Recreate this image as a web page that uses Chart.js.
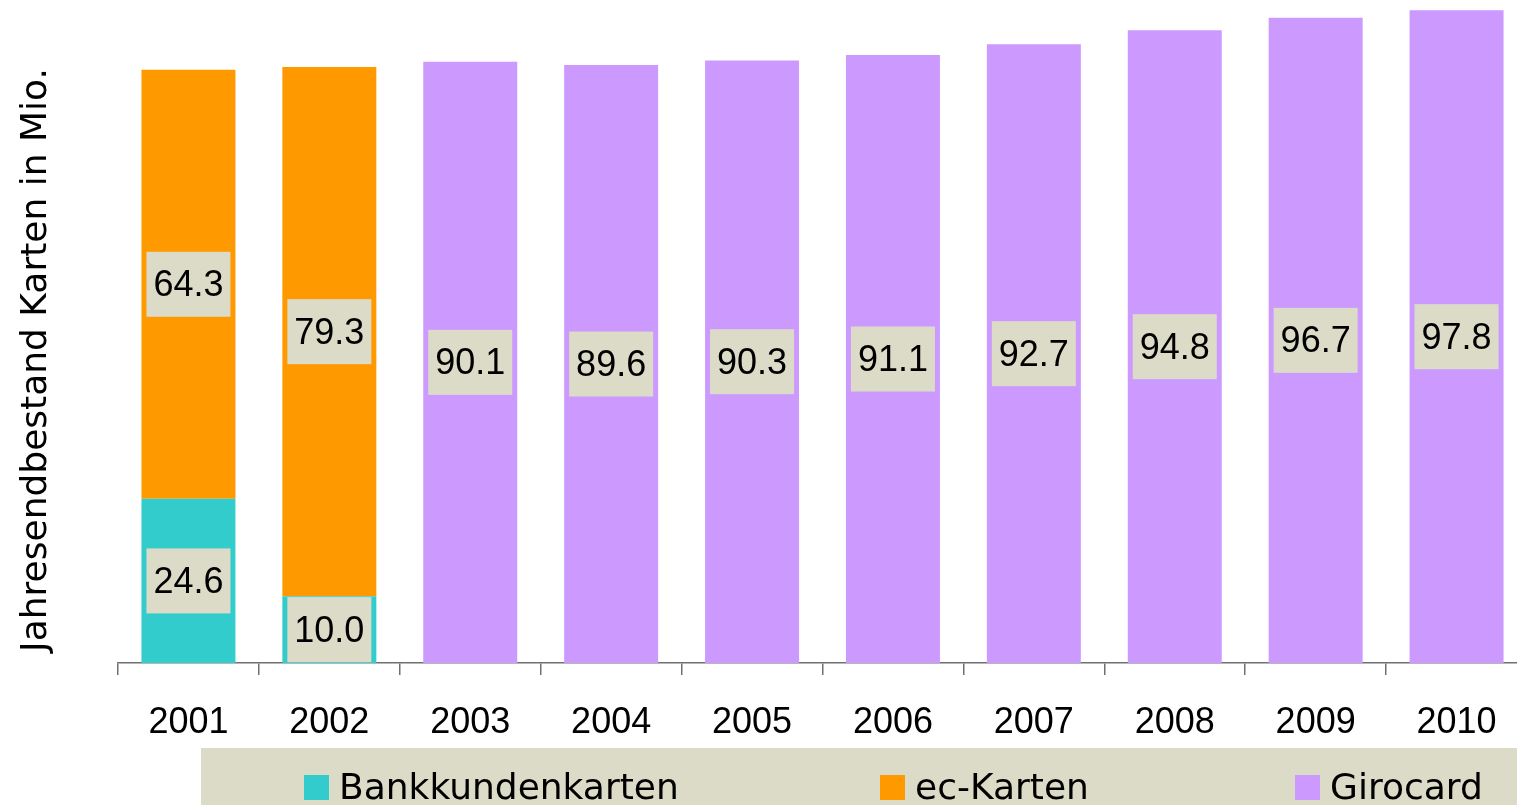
<!DOCTYPE html>
<html>
<head>
<meta charset="utf-8">
<script src="https://cdn.jsdelivr.net/npm/chart.js@4"></script>
<style>
  html, body { margin: 0; padding: 0; overflow: hidden; background: #ffffff; }
  #wrap { position: absolute; left: 0; top: 0; width: 1540px; height: 805px; }
</style>
</head>
<body>
<div id="wrap"><canvas id="c" width="1540" height="805"></canvas></div>
<script>
const categories = ['2001', '2002', '2003', '2004', '2005', '2006', '2007', '2008', '2009', '2010'];
const bankkundenkarten = [24.6, 10.0, null, null, null, null, null, null, null, null];
const ecKarten = [64.3, 79.3, null, null, null, null, null, null, null, null];
const girocard = [null, null, 90.1, 89.6, 90.3, 91.1, 92.7, 94.8, 96.7, 97.8];
const seriesNames = ['Bankkundenkarten', 'ec-Karten', 'Girocard'];
const yTitle = 'Jahresendbestand Karten in Mio.';

const NUM_FONT = '36px "Liberation Sans", Arial, sans-serif';
const TXT_FONT = '36px "DejaVu Sans", sans-serif';
const BOX = '#DCDBC7';

const labelPlugin = {
  id: 'boxLabels',
  afterDatasetsDraw(chart) {
    const ctx = chart.ctx;
    ctx.save();
    ctx.font = NUM_FONT;
    ctx.textAlign = 'center';
    ctx.textBaseline = 'middle';
    chart.data.datasets.forEach((ds, i) => {
      const meta = chart.getDatasetMeta(i);
      meta.data.forEach((el, j) => {
        const v = ds.data[j];
        if (v === null || v === undefined) return;
        const cx = el.x;
        const cy = (el.y + el.base) / 2;
        const w = 84, h = 65;
        ctx.fillStyle = BOX;
        ctx.fillRect(cx - w / 2, cy - h / 2, w, h);
        ctx.fillStyle = '#000000';
        ctx.fillText(v.toFixed(1), cx, cy + 2);
      });
    });
    ctx.restore();
  }
};

const decorPlugin = {
  id: 'decor',
  afterDraw(chart) {
    const ctx = chart.ctx;
    ctx.save();
    // y-axis title
    ctx.font = TXT_FONT;
    ctx.fillStyle = '#000000';
    ctx.translate(46, 360);
    ctx.rotate(-Math.PI / 2);
    ctx.textAlign = 'center';
    ctx.textBaseline = 'alphabetic';
    ctx.fillText(yTitle, 0, 0);
    ctx.restore();

    // legend
    ctx.save();
    ctx.fillStyle = BOX;
    ctx.fillRect(201, 748, 1340, 57);
    const xs = [304, 880, 1295];
    ctx.font = TXT_FONT;
    ctx.textAlign = 'left';
    ctx.textBaseline = 'alphabetic';
    chart.data.datasets.forEach((ds, i) => {
      ctx.fillStyle = ds.backgroundColor;
      ctx.fillRect(xs[i], 775, 25, 25);
      ctx.fillStyle = '#000000';
      ctx.fillText(ds.label, xs[i] + 35, 799);
    });
    ctx.restore();
  }
};

new Chart(document.getElementById('c'), {
  type: 'bar',
  data: {
    labels: categories,
    datasets: [
      { label: seriesNames[0], data: bankkundenkarten, backgroundColor: '#33CCCC' },
      { label: seriesNames[1], data: ecKarten, backgroundColor: '#FF9900' },
      { label: seriesNames[2], data: girocard, backgroundColor: '#CC99FF' }
    ]
  },
  options: {
    responsive: false,
    animation: false,
    layout: { padding: { left: 118, right: 13, top: 9, bottom: 0 } },
    datasets: { bar: { categoryPercentage: 1.0, barPercentage: 0.667, skipNull: false } },
    plugins: { legend: { display: false }, tooltip: { enabled: false } },
    scales: {
      x: {
        stacked: true,
        afterFit(scale) { scale.height = 142; },
        grid: { display: true, drawOnChartArea: false, drawTicks: true, tickLength: 12, color: '#707070', lineWidth: 1.5, offset: true },
        border: { display: true, color: '#707070', width: 1.5 },
        ticks: { font: { family: '"Liberation Sans", Arial, sans-serif', size: 36 }, color: '#000000', padding: 26, maxRotation: 0, autoSkip: false }
      },
      y: {
        display: false,
        stacked: true,
        min: 0,
        max: 98
      }
    }
  },
  plugins: [labelPlugin, decorPlugin]
});
</script>
</body>
</html>
